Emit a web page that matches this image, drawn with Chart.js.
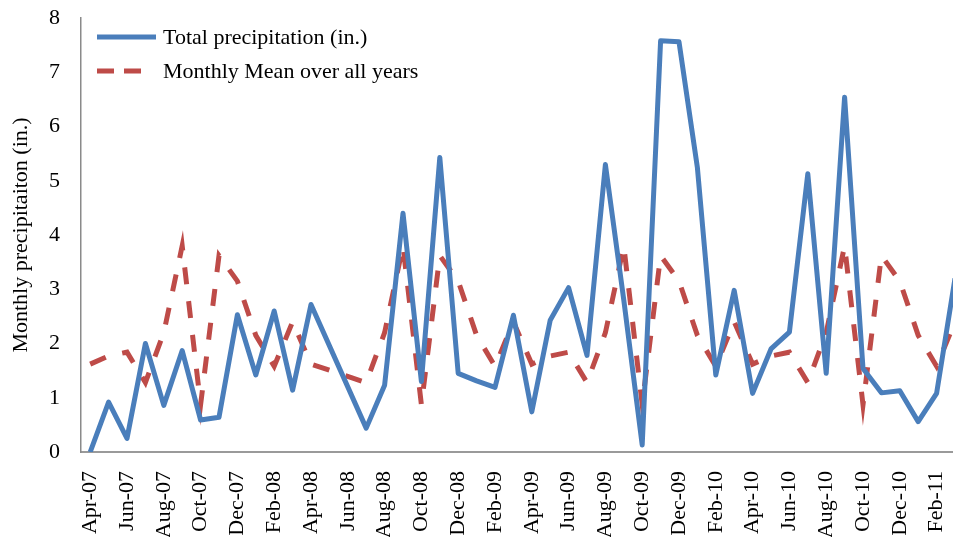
<!DOCTYPE html>
<html>
<head>
<meta charset="utf-8">
<script src="https://cdn.jsdelivr.net/npm/chart.js@4.4.1/dist/chart.umd.min.js"></script>
<style>
  html, body { margin: 0; padding: 0; background: #fff; overflow: hidden; }
  #wrap { position: relative; width: 953px; height: 537px; overflow: hidden; }
</style>
</head>
<body>
<div id="wrap"><canvas id="chart" width="1000" height="537"></canvas></div>
<script>
const months = [
  'Apr-07', 'May-07', 'Jun-07', 'Jul-07', 'Aug-07', 'Sep-07', 'Oct-07', 'Nov-07', 'Dec-07', 'Jan-08', 'Feb-08', 'Mar-08',
  'Apr-08', 'May-08', 'Jun-08', 'Jul-08', 'Aug-08', 'Sep-08', 'Oct-08', 'Nov-08', 'Dec-08', 'Jan-09', 'Feb-09', 'Mar-09',
  'Apr-09', 'May-09', 'Jun-09', 'Jul-09', 'Aug-09', 'Sep-09', 'Oct-09', 'Nov-09', 'Dec-09', 'Jan-10', 'Feb-10', 'Mar-10',
  'Apr-10', 'May-10', 'Jun-10', 'Jul-10', 'Aug-10', 'Sep-10', 'Oct-10', 'Nov-10', 'Dec-10', 'Jan-11', 'Feb-11', 'Mar-11'
];

// null = no record that month (line is joined across the gap)
const totalPrecip = [
  0.00, 0.92, 0.25, 2.00, 0.86, 1.87, 0.59, 0.64, 2.53, 1.42, 2.60, 1.14,
  2.72, null, null, 0.44, 1.23, 4.40, 1.30, 5.43, 1.45, 1.31, 1.19, 2.52,
  0.74, 2.43, 3.03, 1.78, 5.30, 2.80, 0.13, 7.58, 7.56, 5.24, 1.42, 2.98,
  1.08, 1.90, 2.21, 5.13, 1.45, 6.54, 1.54, 1.09, 1.13, 0.56, 1.08, 3.20
];

const monthlyMean = [
  1.62, 1.77, 1.84, 1.28, 2.20, 3.80, 0.87, 3.62, 3.15, 2.15, 1.58, 2.40,
  1.62, null, null, 1.28, 2.20, 3.80, 0.87, 3.62, 3.15, 2.15, 1.58, 2.40,
  1.62, 1.77, 1.84, 1.28, 2.20, 3.80, 0.87, 3.62, 3.15, 2.15, 1.58, 2.40,
  1.62, 1.77, 1.84, 1.28, 2.20, 3.80, 0.87, 3.62, 3.15, 2.15, 1.58, 2.40
];

const yTicks = [0, 1, 2, 3, 4, 5, 6, 7, 8];

const BLUE = '#4a7ebb';
const RED = '#be4b48';
const FONT = 'Liberation Serif';

// legend drawn inside the plot, top left, like the original
const insideLegend = {
  id: 'insideLegend',
  afterDraw(chart) {
    const {ctx} = chart;
    const rows = [
      {ds: chart.data.datasets[0], y: 37, dash: [], x2: 156},
      {ds: chart.data.datasets[1], y: 71, dash: [17, 10], x2: 141}
    ];
    ctx.save();
    rows.forEach(r => {
      ctx.beginPath();
      ctx.setLineDash(r.dash);
      ctx.lineWidth = 5;
      ctx.strokeStyle = r.ds.borderColor;
      ctx.moveTo(97, r.y);
      ctx.lineTo(r.x2, r.y);
      ctx.stroke();
      ctx.setLineDash([]);
      ctx.fillStyle = '#000';
      ctx.font = `22px "${FONT}"`;
      ctx.textBaseline = 'middle';
      ctx.fillText(r.ds.label, 163, r.y + 1);
    });
    ctx.restore();
  }
};

new Chart(document.getElementById('chart'), {
  type: 'line',
  data: {
    labels: months,
    datasets: [
      {
        label: 'Total precipitation (in.)',
        data: totalPrecip,
        borderColor: BLUE,
        borderWidth: 5,
        borderJoinStyle: 'round',
        pointRadius: 0,
        tension: 0,
        spanGaps: true
      },
      {
        label: 'Monthly Mean over all years',
        data: monthlyMean,
        borderColor: RED,
        borderWidth: 5,
        borderDash: [17, 17],
        pointRadius: 0,
        tension: 0,
        spanGaps: true
      }
    ]
  },
  options: {
    responsive: false,
    animation: false,
    layout: {padding: {top: 18, right: 35.8, left: 0, bottom: 0}},
    plugins: {
      legend: {display: false},
      tooltip: {enabled: false}
    },
    scales: {
      x: {
        offset: true,
        grid: {drawOnChartArea: false, drawTicks: false},
        border: {color: '#9a9a9a', width: 2},
        ticks: {
          autoSkip: false,
          maxRotation: 90,
          minRotation: 90,
          padding: 19,
          color: '#000',
          font: {family: FONT, size: 22},
          callback: (val, i) => (i % 2 === 0 ? months[i] : '')
        },
        afterFit: scale => {
          scale.height = 85;
          scale.paddingLeft = 0;
          scale.paddingRight = 0;
        }
      },
      y: {
        min: yTicks[0],
        max: yTicks[yTicks.length - 1],
        grid: {drawOnChartArea: false, drawTicks: false},
        border: {color: '#8a8a8a', width: 1.5},
        afterBuildTicks: scale => { scale.ticks = yTicks.map(v => ({value: v})); },
        ticks: {
          padding: 21,
          color: '#000',
          font: {family: FONT, size: 22}
        },
        title: {
          display: true,
          text: 'Monthly precipitaiton (in.)',
          color: '#000',
          font: {family: FONT, size: 22},
          padding: {top: 8, bottom: 0}
        },
        afterFit: scale => {
          scale.width = 81;
          // keep the plot top at the "8" line, as in the original
          scale.paddingTop = 0;
          scale.paddingBottom = 0;
        }
      }
    }
  },
  plugins: [insideLegend]
});
</script>
</body>
</html>
